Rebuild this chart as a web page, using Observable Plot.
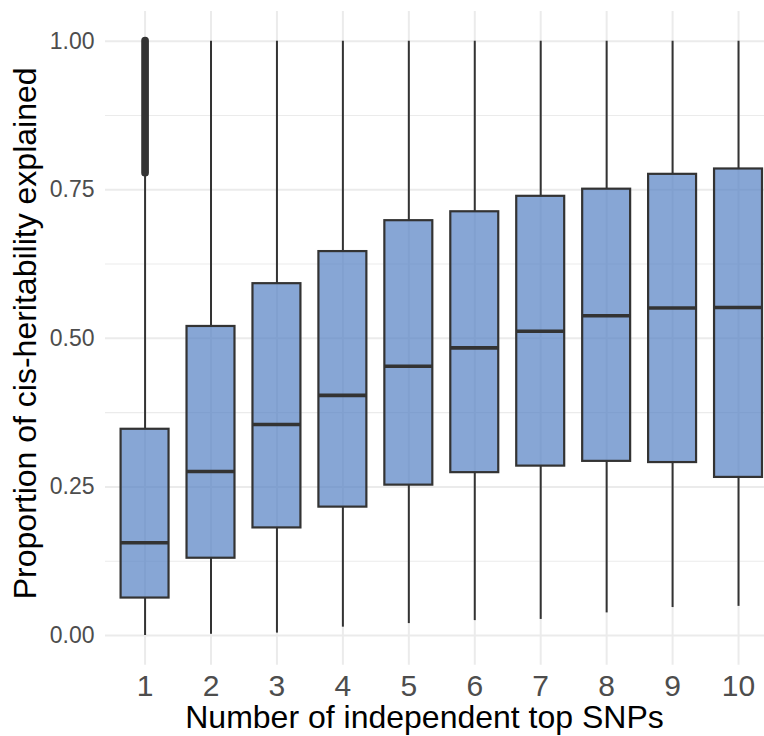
<!DOCTYPE html>
<html>
<head>
<meta charset="utf-8">
<script src="https://cdn.jsdelivr.net/npm/d3@7"></script>
<script src="https://cdn.jsdelivr.net/npm/@observablehq/plot@0.6"></script>
<style>
  html, body { margin: 0; padding: 0; background: #fff; }
</style>
</head>
<body>
<div id="chart"></div>
<script>
// ---- data ----
const categories   = ["1","2","3","4","5","6","7","8","9","10"];
const whiskerLow   = [0.000, 0.002, 0.004, 0.014, 0.020, 0.025, 0.027, 0.038, 0.047, 0.049];
const q1           = [0.063, 0.130, 0.181, 0.216, 0.253, 0.274, 0.285, 0.293, 0.291, 0.266];
const medians      = [0.156, 0.276, 0.355, 0.404, 0.453, 0.484, 0.512, 0.538, 0.551, 0.552];
const q3           = [0.347, 0.520, 0.592, 0.646, 0.698, 0.713, 0.739, 0.751, 0.776, 0.785];
const whiskerHigh  = [0.773, 1.000, 1.000, 1.000, 1.000, 1.000, 1.000, 1.000, 1.000, 1.000];
// dense outlier band (group 1 only)
const outlierGroups = ["1"];
const outlierLow    = [0.778];
const outlierHigh   = [1.000];

const yMajorTicks = [0, 0.25, 0.5, 0.75, 1];
const yMinorTicks = [0.125, 0.375, 0.625, 0.875];
const xTitle = "Number of independent top SNPs";
const yTitle = "Proportion of cis-heritability explained";

const boxes = categories.map((c, i) => ({
  cat: c, lo: whiskerLow[i], q1: q1[i], med: medians[i], q3: q3[i], hi: whiskerHigh[i]
}));
const outliers = outlierGroups.map((c, i) => ({cat: c, lo: outlierLow[i], hi: outlierHigh[i]}));

const ink = "#333333";
const grid = "#ebebeb";

const chart = Plot.plot({
  width: 764,
  height: 736,
  marginLeft: 105,
  marginRight: 0,
  marginTop: 11,
  marginBottom: 71.3,
  style: {fontFamily: "'Liberation Sans', Arial, sans-serif", color: "#4d4d4d", background: "#fff"},
  x: {type: "band", domain: categories, range: [105, 777.6], paddingInner: 0.2727, paddingOuter: 0.2364, align: 0.5, round: false},
  y: {domain: [-0.05, 1.05]},
  marks: [
    Plot.ruleY(yMinorTicks, {stroke: grid, strokeWidth: 1.1}),
    Plot.ruleY(yMajorTicks, {stroke: grid, strokeWidth: 2}),
    Plot.ruleX(categories, {x: d => d, stroke: grid, strokeWidth: 2}),
    Plot.axisY({ticks: yMajorTicks, tickFormat: d3.format(".2f"), tickSize: 0, tickPadding: 11, fontSize: 23, label: null}),
    Plot.axisX({tickSize: 0, tickPadding: 9, fontSize: 30, label: null}),
    Plot.ruleX(boxes, {x: "cat", y1: "lo", y2: "q1", stroke: ink, strokeWidth: 2}),
    Plot.ruleX(boxes, {x: "cat", y1: "q3", y2: "hi", stroke: ink, strokeWidth: 2}),
    Plot.ruleX(outliers, {x: "cat", y1: "lo", y2: "hi", stroke: ink, strokeWidth: 7.7, strokeLinecap: "round"}),
    Plot.barY(boxes, {x: "cat", y1: "q1", y2: "q3", fill: "#5480c3", fillOpacity: 0.7, stroke: ink, strokeWidth: 2.2}),
    Plot.tickY(boxes, {x: "cat", y: "med", stroke: ink, strokeWidth: 3.6}),
    Plot.text([xTitle], {frameAnchor: "bottom", textAnchor: "middle", lineAnchor: "middle", dx: -10.5, dy: 53, fontSize: 32, fill: "black"}),
    Plot.text([yTitle], {frameAnchor: "left", textAnchor: "middle", lineAnchor: "middle", rotate: -90, dx: -79.7, dy: -5, fontSize: 32, fill: "black"})
  ]
});
document.getElementById("chart").appendChild(chart);
</script>
</body>
</html>
